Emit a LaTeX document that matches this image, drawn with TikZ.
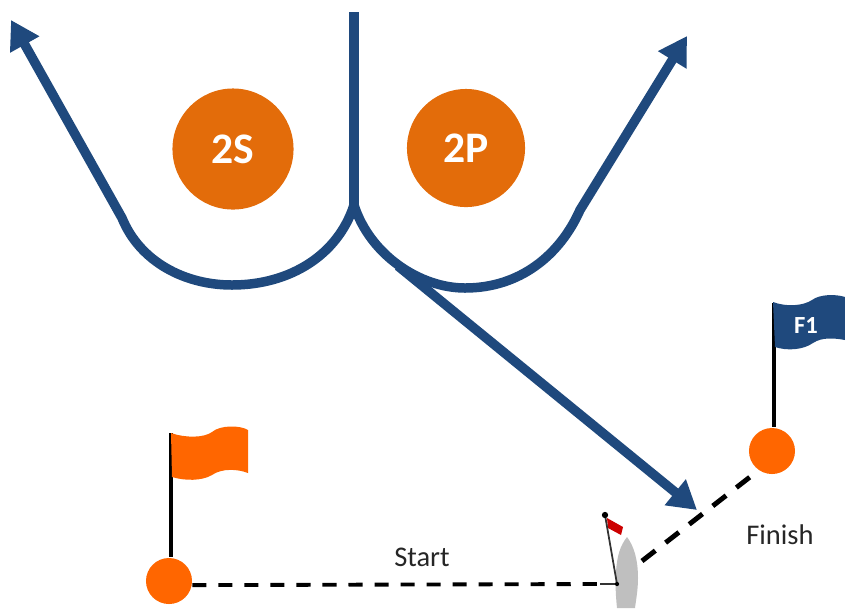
\documentclass[tikz,border=0pt]{standalone}
\usepackage{fontspec}
\setmainfont{Carlito}
\usetikzlibrary{arrows.meta}
\definecolor{route}{HTML}{1F497D}
\definecolor{mark}{HTML}{E36C0A}
\definecolor{buoy}{HTML}{FF6600}
\tikzset{
  course/.style={route, line width=2.7pt},
  arrowed/.style={course, -{Triangle[length=8pt, width=9pt]}},
  pole/.style={black, line width=1.1pt},
  gate/.style={black, line width=1.1pt, dash pattern=on 4pt off 3.4pt},
  rounding/.style={circle, fill=mark, inner sep=0pt, font=\bfseries\fontsize{12.4}{14}\selectfont, text=white},
  buoynode/.style={circle, fill=buoy, inner sep=0pt, minimum size=0.46cm},
  caption/.style={font=\fontsize{8.1}{10}\selectfont, text=black!85}
}
\begin{document}
\begin{tikzpicture}[x=0.01cm, y=-0.01cm]
    \clip (0,0) rectangle (845,608);
    \useasboundingbox (0,0) rectangle (845,608);
    \node[rounding, minimum size=1.21cm] (s2) at (233,149) {2S};
    \node[rounding, minimum size=1.18cm] (p2) at (466,148) {2P};
    \node[buoynode] (start) at (169,581) {};
    \node[buoynode] (finish) at (772,451) {};
    \node[caption] (startlabel) at (422,557) {Start};
    \node[caption] (finishlabel) at (780,535) {Finish};
    \coordinate (top) at (354,12);
    \coordinate (cusp) at (354,205);
    \coordinate (lefttip) at (11,20);
    \coordinate (righttip) at (687,36);
    \coordinate (branch) at (398,266);
    \coordinate (gatetip) at (697,510);
    \coordinate (boatstern) at (600,584);
    \coordinate (mastfoot) at (617,584);
    \coordinate (masthead) at (605,515);
    \coordinate (boatbow) at (642,561);
    \coordinate (starttop) at (171,433);
    \coordinate (finishtop) at (774,303);
    % boat
    \fill[black!25] (627,537) .. controls (634,546) and (638,560) .. (638,578)
      .. controls (638,590) and (636,600) .. (635,608) -- (617,608)
      .. controls (616,598) and (615,585) .. (616,572) .. controls (617,556) and (620,546) .. (627,537);
    \fill[red!80!black] (607,518) -- (623,527) -- (621,535) -- (608,528) -- cycle;
    \draw[black!80, line width=0.5pt] (masthead) -- (mastfoot);
    \fill[black] (masthead) circle (0.9pt);
    \draw[black!80, line width=0.4pt] (boatstern) -- (mastfoot);
    \fill[black] (mastfoot) circle (0.6pt);
    % flags
    \draw[pole] (starttop) -- (starttop |- start.north);
    \draw[pole] (finishtop) -- (finishtop |- finish.north);
    \fill[buoy] (171,433) .. controls (185,438) and (204,438) .. (212,432)
      .. controls (220,425) and (240,425) .. (248,430) -- (248,473)
      .. controls (238,469) and (222,468) .. (212,475) .. controls (202,481) and (185,481) .. (172,477) -- cycle;
    \fill[route] (773,302) .. controls (786,307) and (803,306) .. (812,300)
      .. controls (820,294) and (836,294) .. (845,297) -- (845,340)
      .. controls (834,338) and (822,337) .. (813,343) .. controls (803,350) and (787,351) .. (775,347) -- cycle;
    \node[font=\bfseries\fontsize{7}{8}\selectfont, text=white] (f1) at (806,325) {F1};
    % gate lines
    \draw[gate] (start.-10) -- (boatstern);
    \draw[gate, line width=1.4pt, dash pattern=on 4.8pt off 3.7pt] (boatbow) -- (finish.235);
    % course
    \draw[course] (top) -- (cusp);
    \draw[arrowed] (cusp) .. controls (338,255) and (290,285) .. (232,285)
      .. controls (185,285) and (140,262) .. (122,218) -- (lefttip);
    \draw[arrowed] (cusp) .. controls (370,255) and (420,288) .. (465,288)
      .. controls (520,288) and (560,255) .. (580,210) -- (righttip);
    \draw[arrowed] (branch) -- (gatetip);
\end{tikzpicture}
\end{document}
